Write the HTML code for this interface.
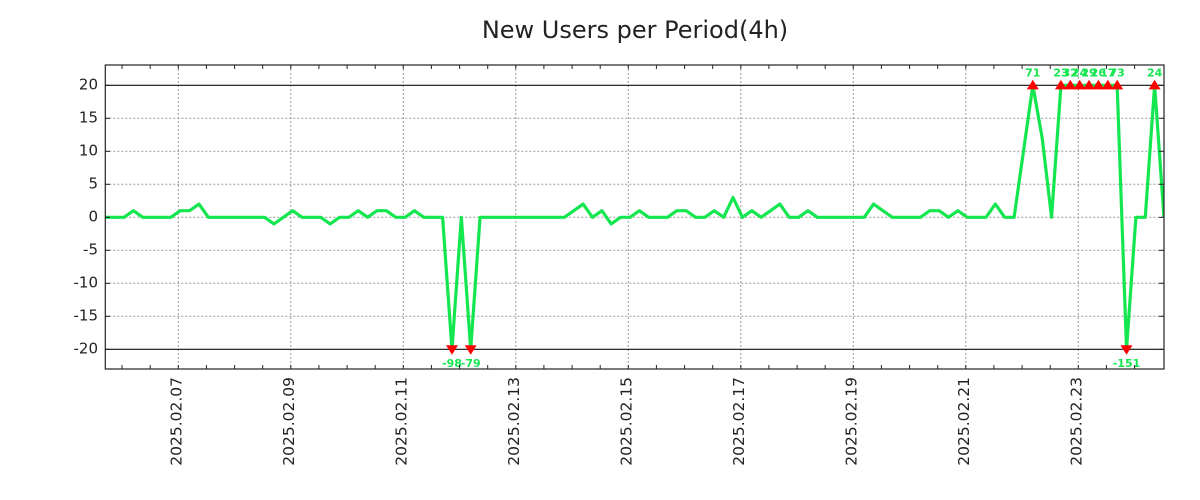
<!DOCTYPE html>
<html>
<head>
<meta charset="utf-8">
<style>
  html, body { margin: 0; padding: 0; background: #ffffff; }
  body { width: 1200px; height: 500px; overflow: hidden; }
  svg { display: block; }
  .tl { font-family: "DejaVu Sans", "Liberation Sans", sans-serif; fill: #222; }
  .ann { font-family: "DejaVu Sans", "Liberation Sans", sans-serif; font-weight: bold; font-size: 11px; fill: #14e650; }
</style>
</head>
<body>
<svg width="1200" height="500" viewBox="0 0 1200 500" xmlns="http://www.w3.org/2000/svg">
  <rect x="0" y="0" width="1200" height="500" fill="#ffffff"/>
  <defs>
    <clipPath id="plot"><rect x="105.3" y="65" width="1058.7" height="304"/></clipPath>
  </defs>

  <!-- title -->
  <text class="tl" x="635" y="38" font-size="24" text-anchor="middle">New Users per Period(4h)</text>

  <!-- horizontal dotted grid -->
  <g stroke="#999" stroke-width="1" stroke-dasharray="2,2">
    <line x1="105.3" y1="118.3" x2="1164" y2="118.3"/>
    <line x1="105.3" y1="151.3" x2="1164" y2="151.3"/>
    <line x1="105.3" y1="184.3" x2="1164" y2="184.3"/>
    <line x1="105.3" y1="217.3" x2="1164" y2="217.3"/>
    <line x1="105.3" y1="250.3" x2="1164" y2="250.3"/>
    <line x1="105.3" y1="283.3" x2="1164" y2="283.3"/>
    <line x1="105.3" y1="316.3" x2="1164" y2="316.3"/>
  </g>
  <!-- vertical dotted grid -->
  <g stroke="#999" stroke-width="1" stroke-dasharray="2,2">
    <line x1="178.3" y1="65" x2="178.3" y2="369"/>
    <line x1="290.8" y1="65" x2="290.8" y2="369"/>
    <line x1="403.3" y1="65" x2="403.3" y2="369"/>
    <line x1="515.8" y1="65" x2="515.8" y2="369"/>
    <line x1="628.3" y1="65" x2="628.3" y2="369"/>
    <line x1="740.8" y1="65" x2="740.8" y2="369"/>
    <line x1="853.3" y1="65" x2="853.3" y2="369"/>
    <line x1="965.8" y1="65" x2="965.8" y2="369"/>
    <line x1="1078.3" y1="65" x2="1078.3" y2="369"/>
  </g>

  <!-- +/-20 solid lines -->
  <g stroke="#111" stroke-width="1.2">
    <line x1="105.3" y1="85.3" x2="1164" y2="85.3"/>
    <line x1="105.3" y1="349.3" x2="1164" y2="349.3"/>
  </g>

  <!-- data line -->
  <g clip-path="url(#plot)">
    <polyline fill="none" stroke="#14e650" stroke-width="3.2" stroke-linejoin="round" vector-effect="non-scaling-stroke"
      transform="translate(105.3,217.3) scale(9.369,-6.6)"
      points="0,0 1,0 2,0 3,1 4,0 5,0 6,0 7,0 8,1 9,1 10,2 11,0 12,0 13,0 14,0 15,0 16,0 17,0 18,-1 19,0 20,1 21,0 22,0 23,0 24,-1 25,0 26,0 27,1 28,0 29,1 30,1 31,0 32,0 33,1 34,0 35,0 36,0 37,-20 38,0 39,-20 40,0 41,0 42,0 43,0 44,0 45,0 46,0 47,0 48,0 49,0 50,1 51,2 52,0 53,1 54,-1 55,0 56,0 57,1 58,0 59,0 60,0 61,1 62,1 63,0 64,0 65,1 66,0 67,3 68,0 69,1 70,0 71,1 72,2 73,0 74,0 75,1 76,0 77,0 78,0 79,0 80,0 81,0 82,2 83,1 84,0 85,0 86,0 87,0 88,1 89,1 90,0 91,1 92,0 93,0 94,0 95,2 96,0 97,0 98,10 99,20 100,12 101,0 102,20 103,20 104,20 105,20 106,20 107,20 108,20 109,-20 110,0 111,0 112,20 113,0"/>
  </g>

  <!-- markers -->
  <g fill="#ff0000">
    <polygon points="1032.8,79.8 1026.8,89.4 1038.8,89.4"/>
    <polygon points="1060.9,79.8 1054.9,89.4 1066.9,89.4"/>
    <polygon points="1070.3,79.8 1064.3,89.4 1076.3,89.4"/>
    <polygon points="1079.7,79.8 1073.7,89.4 1085.7,89.4"/>
    <polygon points="1089.0,79.8 1083.0,89.4 1095.0,89.4"/>
    <polygon points="1098.4,79.8 1092.4,89.4 1104.4,89.4"/>
    <polygon points="1107.8,79.8 1101.8,89.4 1113.8,89.4"/>
    <polygon points="1117.2,79.8 1111.2,89.4 1123.2,89.4"/>
    <polygon points="1154.6,79.8 1148.6,89.4 1160.6,89.4"/>
    <polygon points="452.0,354.8 446.0,345.2 458.0,345.2"/>
    <polygon points="470.7,354.8 464.7,345.2 476.7,345.2"/>
    <polygon points="1126.5,354.8 1120.5,345.2 1132.5,345.2"/>
  </g>

  <!-- annotations -->
  <g class="ann" text-anchor="middle">
    <text x="1032.8" y="76.5">71</text>
    <text x="1060.9" y="76.5">23</text>
    <text x="1070.3" y="76.5">32</text>
    <text x="1079.7" y="76.5">24</text>
    <text x="1089.0" y="76.5">29</text>
    <text x="1098.4" y="76.5">26</text>
    <text x="1107.8" y="76.5">17</text>
    <text x="1117.2" y="76.5">73</text>
    <text x="1154.6" y="76.5">24</text>
    <text x="452.0" y="367">-98</text>
    <text x="470.7" y="367">-79</text>
    <text x="1126.5" y="367">-151</text>
  </g>

  <!-- axes frame -->
  <rect x="105.3" y="65" width="1058.7" height="304" fill="none" stroke="#222" stroke-width="1.2"/>

  <!-- y ticks (inward both sides) -->
  <g stroke="#222" stroke-width="1">
    <line x1="105.3" y1="85.3" x2="110" y2="85.3"/><line x1="1159" y1="85.3" x2="1164" y2="85.3"/>
    <line x1="105.3" y1="118.3" x2="110" y2="118.3"/><line x1="1159" y1="118.3" x2="1164" y2="118.3"/>
    <line x1="105.3" y1="151.3" x2="110" y2="151.3"/><line x1="1159" y1="151.3" x2="1164" y2="151.3"/>
    <line x1="105.3" y1="184.3" x2="110" y2="184.3"/><line x1="1159" y1="184.3" x2="1164" y2="184.3"/>
    <line x1="105.3" y1="217.3" x2="110" y2="217.3"/><line x1="1159" y1="217.3" x2="1164" y2="217.3"/>
    <line x1="105.3" y1="250.3" x2="110" y2="250.3"/><line x1="1159" y1="250.3" x2="1164" y2="250.3"/>
    <line x1="105.3" y1="283.3" x2="110" y2="283.3"/><line x1="1159" y1="283.3" x2="1164" y2="283.3"/>
    <line x1="105.3" y1="316.3" x2="110" y2="316.3"/><line x1="1159" y1="316.3" x2="1164" y2="316.3"/>
    <line x1="105.3" y1="349.3" x2="110" y2="349.3"/><line x1="1159" y1="349.3" x2="1164" y2="349.3"/>
  </g>

  <!-- x minor ticks every 12h (inward top and bottom) -->
  <g stroke="#222" stroke-width="1">
    <path d="M122.05 65v4M150.2 65v4M178.3 65v4M206.4 65v4M234.6 65v4M262.7 65v4M290.8 65v4M318.9 65v4M347.1 65v4M375.2 65v4M403.3 65v4M431.4 65v4M459.6 65v4M487.7 65v4M515.8 65v4M543.9 65v4M572.1 65v4M600.2 65v4M628.3 65v4M656.4 65v4M684.6 65v4M712.7 65v4M740.8 65v4M768.9 65v4M797.1 65v4M825.2 65v4M853.3 65v4M881.4 65v4M909.6 65v4M937.7 65v4M965.8 65v4M993.9 65v4M1022.1 65v4M1050.2 65v4M1078.3 65v4M1106.4 65v4M1134.6 65v4"/>
    <path d="M122.05 369v-4M150.2 369v-4M178.3 369v-4M206.4 369v-4M234.6 369v-4M262.7 369v-4M290.8 369v-4M318.9 369v-4M347.1 369v-4M375.2 369v-4M403.3 369v-4M431.4 369v-4M459.6 369v-4M487.7 369v-4M515.8 369v-4M543.9 369v-4M572.1 369v-4M600.2 369v-4M628.3 369v-4M656.4 369v-4M684.6 369v-4M712.7 369v-4M740.8 369v-4M768.9 369v-4M797.1 369v-4M825.2 369v-4M853.3 369v-4M881.4 369v-4M909.6 369v-4M937.7 369v-4M965.8 369v-4M993.9 369v-4M1022.1 369v-4M1050.2 369v-4M1078.3 369v-4M1106.4 369v-4M1134.6 369v-4"/>
  </g>

  <!-- y tick labels -->
  <g class="tl" font-size="15" text-anchor="end">
    <text x="98" y="89.5">20</text>
    <text x="98" y="122.5">15</text>
    <text x="98" y="155.5">10</text>
    <text x="98" y="188.5">5</text>
    <text x="98" y="221.5">0</text>
    <text x="98" y="254.5">-5</text>
    <text x="98" y="287.5">-10</text>
    <text x="98" y="320.5">-15</text>
    <text x="98" y="353.5">-20</text>
  </g>

  <!-- x tick labels (rotated) -->
  <g class="tl" font-size="15.5" text-anchor="end">
    <text transform="translate(181.5,377) rotate(-90)">2025.02.07</text>
    <text transform="translate(294,377) rotate(-90)">2025.02.09</text>
    <text transform="translate(406.5,377) rotate(-90)">2025.02.11</text>
    <text transform="translate(519,377) rotate(-90)">2025.02.13</text>
    <text transform="translate(631.5,377) rotate(-90)">2025.02.15</text>
    <text transform="translate(744,377) rotate(-90)">2025.02.17</text>
    <text transform="translate(856.5,377) rotate(-90)">2025.02.19</text>
    <text transform="translate(969,377) rotate(-90)">2025.02.21</text>
    <text transform="translate(1081.5,377) rotate(-90)">2025.02.23</text>
  </g>
</svg>
</body>
</html>
